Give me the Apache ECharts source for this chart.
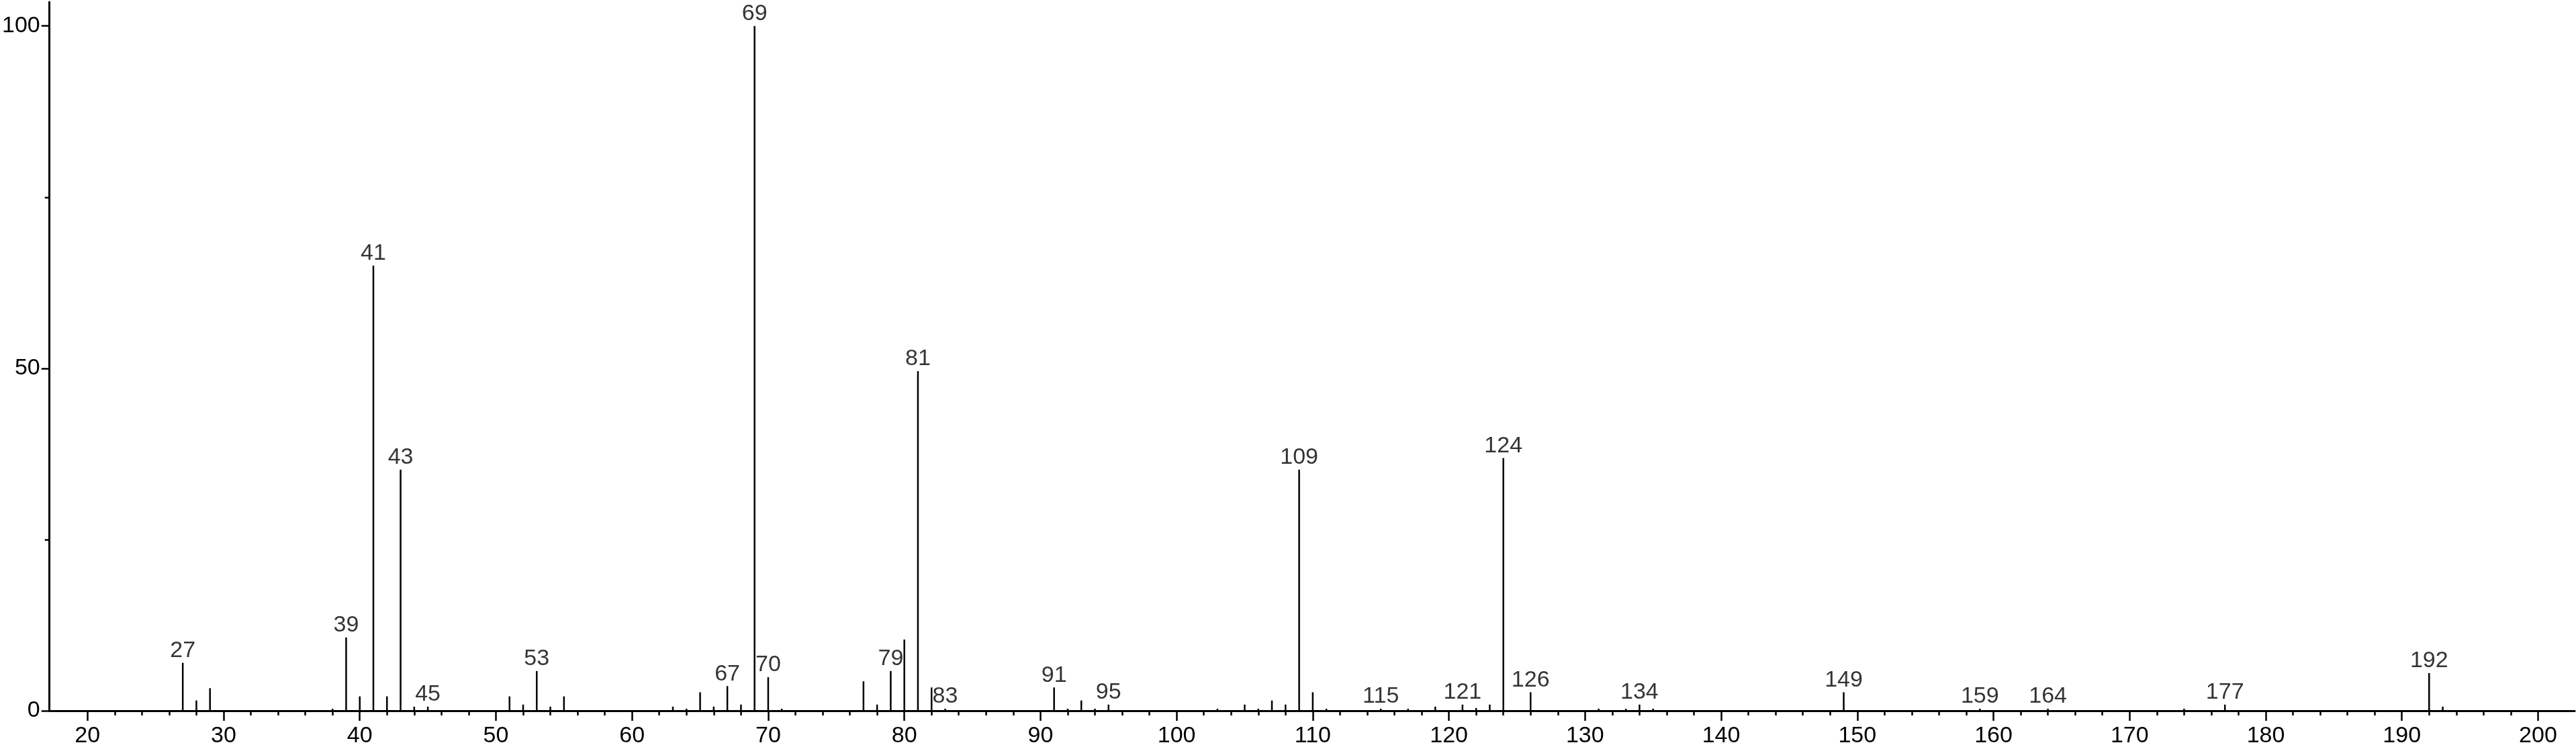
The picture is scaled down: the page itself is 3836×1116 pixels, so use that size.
<!DOCTYPE html>
<html>
<head>
<meta charset="utf-8">
<script src="https://cdn.jsdelivr.net/npm/echarts@6/dist/echarts.min.js"></script>
<style>
html,body{margin:0;padding:0;background:#fff;}
#chart{width:3836px;height:1116px;}
</style>
</head>
<body>
<div id="chart"></div>
<script>
// m/z values and relative intensities (%)
const mz = [27,28,29,38,39,40,41,42,43,44,45,51,52,53,54,55,63,64,65,66,67,68,69,70,71,77,78,79,80,81,82,83,91,92,93,94,95,103,105,106,107,108,109,110,111,115,117,119,121,122,123,124,126,131,133,134,135,149,159,164,174,177,192,193];
const intensity = [7.0,1.5,3.3,0.3,10.7,2.1,65.0,2.1,35.2,0.6,0.6,2.1,0.9,5.8,0.6,2.1,0.6,0.3,2.7,0.6,3.6,0.9,100,4.9,0.3,4.3,0.9,5.8,10.4,49.6,3.4,0.3,3.4,0.3,1.5,0.3,0.9,0.3,0.9,0.3,1.5,0.9,35.2,2.7,0.3,0.3,0.3,0.6,0.9,0.4,0.9,36.9,2.7,0.3,0.3,0.9,0.3,2.7,0.3,0.3,0.3,0.9,5.5,0.6];
// peaks carrying an m/z label
const labeledMz = [27,39,41,43,45,53,67,69,70,79,81,83,91,95,109,115,121,124,126,134,149,159,164,177,192];
// axis tick labels
const xMajorTicks = [20,30,40,50,60,70,80,90,100,110,120,130,140,150,160,170,180,190,200];
const xMinorTicks = [22,24,26,28,32,34,36,38,42,44,46,48,52,54,56,58,62,64,66,68,72,74,76,78,82,84,86,88,92,94,96,98,102,104,106,108,112,114,116,118,122,124,126,128,132,134,136,138,142,144,146,148,152,154,156,158,162,164,166,168,172,174,176,178,182,184,186,188,192,194,196,198];
const yMajorTicks = [0,50,100];
const yMinorTicks = [25,75];

const peakData = mz.map((m, i) => [m, intensity[i]]);
const labelData = labeledMz.map(m => [m, intensity[mz.indexOf(m)]]);

const FONT = 'Liberation Sans';
const FS = 34;
const X_MIN = 17.212, X_MAX = 202.69, Y_MAX = 103.5;

const chart = echarts.init(document.getElementById('chart'), null, {renderer: 'canvas'});
chart.setOption({
  animation: false,
  backgroundColor: '#ffffff',
  grid: {left: 69, right: 2, top: 3, bottom: 57, containLabel: false},
  xAxis: [
    {
      type: 'value', min: X_MIN, max: X_MAX, position: 'bottom',
      axisLine: {show: true, onZero: false, lineStyle: {color: '#000', width: 3}},
      axisTick: {show: true, customValues: xMajorTicks, length: 15, lineStyle: {color: '#000', width: 2.5}},
      axisLabel: {show: true, customValues: xMajorTicks, margin: 21, color: '#000', fontSize: FS, fontFamily: FONT},
      splitLine: {show: false}
    },
    {
      type: 'value', min: X_MIN, max: X_MAX, position: 'bottom',
      axisLine: {show: false, onZero: false},
      axisTick: {show: true, customValues: xMinorTicks, length: 7, lineStyle: {color: '#000', width: 2.5}},
      axisLabel: {show: false},
      splitLine: {show: false}
    }
  ],
  yAxis: [
    {
      type: 'value', min: 0, max: Y_MAX, position: 'left',
      axisLine: {show: true, onZero: false, lineStyle: {color: '#000', width: 3}},
      axisTick: {show: true, customValues: yMajorTicks, length: 12, lineStyle: {color: '#000', width: 2.5}},
      axisLabel: {show: true, customValues: yMajorTicks, margin: 14, color: '#000', fontSize: FS, fontFamily: FONT},
      splitLine: {show: false}
    },
    {
      type: 'value', min: 0, max: Y_MAX, position: 'left',
      axisLine: {show: false, onZero: false},
      axisTick: {show: true, customValues: yMinorTicks, length: 7, lineStyle: {color: '#000', width: 2.5}},
      axisLabel: {show: false},
      splitLine: {show: false}
    }
  ],
  series: [
    {
      type: 'custom',
      xAxisIndex: 0, yAxisIndex: 0,
      clip: false,
      data: peakData,
      renderItem: function (params, api) {
        const x = api.value(0), y = api.value(1);
        const p0 = api.coord([x, 0]);
        const p1 = api.coord([x, y]);
        return {
          type: 'line',
          shape: {x1: p0[0], y1: p0[1], x2: p1[0], y2: p1[1]},
          style: {stroke: '#000', lineWidth: 2.5}
        };
      }
    },
    {
      type: 'scatter',
      xAxisIndex: 0, yAxisIndex: 0,
      data: labelData,
      symbolSize: 0,
      silent: true,
      label: {
        show: true, position: 'top', distance: 1,
        formatter: p => String(p.value[0]),
        color: '#000', fontSize: FS, fontFamily: FONT
      }
    }
  ]
});
</script>
</body>
</html>
